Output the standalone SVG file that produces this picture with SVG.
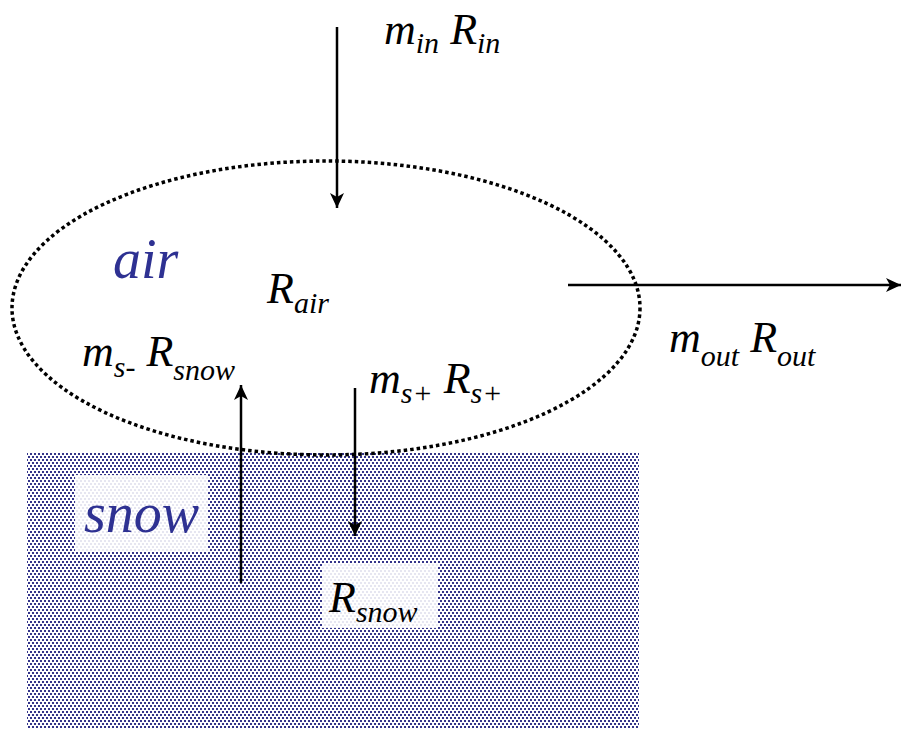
<svg xmlns="http://www.w3.org/2000/svg" width="902" height="729" viewBox="0 0 902 729">
  <defs>
    <pattern id="dots" width="4" height="6" patternUnits="userSpaceOnUse">
      <rect width="4" height="6" fill="#ffffff"/>
      <rect x="0" y="0" width="2" height="2" fill="#34348a"/>
      <rect x="2" y="3" width="2" height="2" fill="#34348a"/>
    </pattern>
    <marker id="arr" markerWidth="16" markerHeight="14" refX="15" refY="7" orient="auto" markerUnits="userSpaceOnUse">
      <path d="M0,0 L15,7 L0,14 L4,7 Z" fill="#000"/>
    </marker>
    <style>
      .t { fill: #000; font-family: "Liberation Serif", "Times New Roman", serif; font-style: italic; font-size: 44px; }
      .sub { font-size: 30px; }
      .blue { fill: #2e3192; font-family: "Liberation Serif", "Times New Roman", serif; font-style: italic; font-size: 56px; }
      .conn { stroke: #000; stroke-width: 2.5; fill: none; }
      .box { fill: #ffffff; fill-opacity: 0.88; }
    </style>
  </defs>

  <g id="snow">
    <rect x="27" y="453" width="612" height="276" fill="url(#dots)"/>
    <rect class="box" x="75" y="475" width="133" height="77"/>
    <text class="blue" x="84" y="532">snow</text>
  </g>

  <g id="air">
    <ellipse cx="326" cy="308" rx="314" ry="147" fill="none" stroke="#000" stroke-width="3.5" stroke-dasharray="3.5 3"/>
    <text class="blue" x="113" y="278">air</text>
  </g>

  <g id="R_air">
    <text class="t" x="267" y="303">R<tspan class="sub" dy="10">air</tspan></text>
  </g>

  <g id="R_snow">
    <rect class="box" x="322" y="563" width="116" height="65"/>
    <text class="t" x="329" y="612">R<tspan class="sub" dy="10">snow</tspan></text>
  </g>

  <g id="connectors">
    <line class="conn" x1="337" y1="27" x2="337" y2="208" marker-end="url(#arr)"/>
    <line class="conn" x1="568" y1="285" x2="901" y2="285" marker-end="url(#arr)"/>
    <line class="conn" x1="241" y1="583" x2="241" y2="385" marker-end="url(#arr)"/>
    <line class="conn" x1="355" y1="388" x2="355" y2="536" marker-end="url(#arr)"/>
  </g>

  <g id="labels">
    <text class="t" x="384" y="44">m<tspan class="sub" dy="9">in</tspan><tspan dy="-9"> R</tspan><tspan class="sub" dy="9">in</tspan></text>
    <text class="t" x="82" y="366">m<tspan class="sub" dy="11">s-</tspan><tspan dy="-11"> R</tspan><tspan class="sub" dy="14">snow</tspan></text>
    <text class="t" x="369" y="393">m<tspan class="sub" dy="10">s+</tspan><tspan dy="-10"> R</tspan><tspan class="sub" dy="10">s+</tspan></text>
    <text class="t" x="669" y="352">m<tspan class="sub" dy="14">out</tspan><tspan dy="-14"> R</tspan><tspan class="sub" dy="14">out</tspan></text>
  </g>
</svg>
